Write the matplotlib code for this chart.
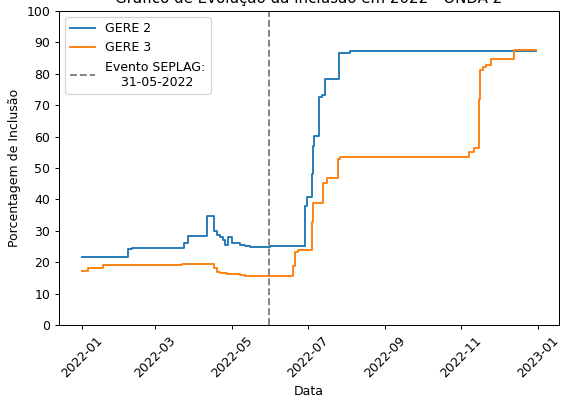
import pandas as pd
from matplotlib import pyplot as plt

# GERE 2 - pontos de mudança (data, % de inclusão)
datas_gere2 = ['2022-01-01', '2022-02-07', '2022-02-10', '2022-03-24', '2022-03-27',
               '2022-04-11', '2022-04-17', '2022-04-19', '2022-04-22', '2022-04-24',
               '2022-04-26', '2022-04-28', '2022-05-01', '2022-05-08', '2022-05-12',
               '2022-05-16', '2022-06-01', '2022-06-29', '2022-06-30', '2022-07-04',
               '2022-07-05', '2022-07-06', '2022-07-10', '2022-07-12', '2022-07-15',
               '2022-07-26', '2022-08-04', '2022-12-31']
valores_gere2 = [21.7, 24.2, 24.6, 26.0, 28.4,
                 34.6, 29.8, 28.8, 28.0, 27.2,
                 25.6, 27.9, 26.0, 25.6, 25.3,
                 25.0, 25.3, 38.0, 40.8, 48.0,
                 57.0, 60.3, 72.7, 73.2, 78.3,
                 86.7, 87.4, 87.4]

# GERE 3
datas_gere3 = ['2022-01-01', '2022-01-06', '2022-01-18', '2022-03-22', '2022-04-17',
               '2022-04-19', '2022-04-22', '2022-04-27', '2022-05-08', '2022-05-12',
               '2022-05-19', '2022-06-19', '2022-06-21', '2022-06-23', '2022-07-04',
               '2022-07-05', '2022-07-13', '2022-07-16', '2022-07-25', '2022-07-27',
               '2022-11-07', '2022-11-11', '2022-11-15', '2022-11-16', '2022-11-18',
               '2022-11-21', '2022-11-25', '2022-12-13', '2022-12-31']
valores_gere3 = [17.2, 18.3, 19.0, 19.3, 18.0,
                 17.0, 16.5, 16.3, 15.9, 15.7,
                 15.6, 18.9, 23.3, 23.9, 32.9,
                 38.7, 45.3, 46.9, 52.8, 53.5,
                 55.2, 56.5, 72.0, 81.2, 82.2,
                 82.8, 84.6, 87.7, 87.7]

data_evento = '2022-05-31'

fig = plt.figure(figsize=(561 / 90, 398 / 90), dpi=90)
ax = fig.add_axes([0.1052, 0.1834, 0.8913, 0.789])

ax.plot(pd.to_datetime(datas_gere2), valores_gere2, drawstyle='steps-post', label='GERE 2')
ax.plot(pd.to_datetime(datas_gere3), valores_gere3, drawstyle='steps-post', label='GERE 3')
ax.axvline(pd.to_datetime(data_evento), color='gray', linestyle='--',
           label='Evento SEPLAG:\n    31-05-2022')

ax.set_title('Gráfico de Evolução da Inclusão em 2022 - ONDA 2')
ax.set_xlabel('Data')
ax.set_ylabel('Porcentagem de Inclusão')
ax.set_ylim(0, 100)
ax.set_yticks(range(0, 101, 10))
plt.xticks(rotation=45)
ax.legend(loc='upper left')

fig.savefig('out.png', dpi=90)
